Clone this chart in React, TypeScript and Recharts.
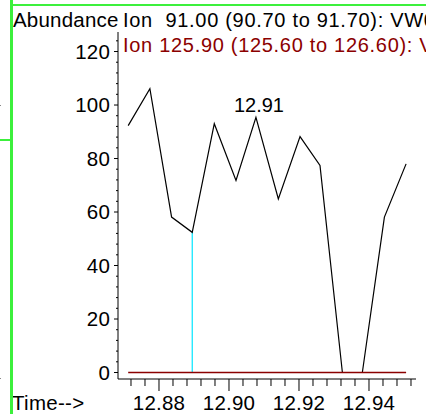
import React from "react";
import { LineChart, Line, XAxis, YAxis, ReferenceLine, LabelList } from "recharts";

// retention times (min)
const times = [12.8712, 12.8774, 12.8836, 12.8895, 12.8958, 12.902, 12.9077, 12.9141, 12.9203, 12.926, 12.9324, 12.9381, 12.9444, 12.9506];
// Ion 91.00 abundance
const ion91 = [92.3, 106.1, 58.1, 52.4, 93.0, 71.8, 95.4, 64.9, 88.2, 77.4, 0, 0, 58.1, 78.0];
// Ion 125.90 abundance
const ion126 = [0, 0, 0, 0, 0, 0, 0, 0, 0, 0, 0, 0, 0, 0];
// peak labels
const peakLabels = ["", "", "", "", "", "", "12.91", "", "", "", "", "", "", ""];
const markerIndex = 3;

const xMajorTicks = [12.88, 12.9, 12.92, 12.94];
const xTicks = [12.872, 12.876, 12.88, 12.884, 12.888, 12.892, 12.896, 12.9, 12.904, 12.908, 12.912, 12.916, 12.92, 12.924, 12.928, 12.932, 12.936, 12.94, 12.944, 12.948, 12.952];
const yMajorTicks = [0, 20, 40, 60, 80, 100, 120];
const yTicks = [0, 4, 8, 12, 16, 20, 24, 28, 32, 36, 40, 44, 48, 52, 56, 60, 64, 68, 72, 76, 80, 84, 88, 92, 96, 100, 104, 108, 112, 116, 120, 124];

const legend1 = "Ion  91.00 (90.70 to 91.70): VW01.D\\data.ms";
const legend2 = "Ion 125.90 (125.60 to 126.60): VW01.D\\data.ms";

const data = times.map((t, i) => ({ t, ion91: ion91[i], ion126: ion126[i], label: peakLabels[i] }));

const FONT = "Arial, 'Liberation Sans', sans-serif";
const RED = "#8B0000";
const GREEN = "#3CF03C";

const XTick = (props: any) => {
  const { x, y, payload } = props;
  const major = xMajorTicks.includes(payload.value);
  return (
    <g>
      <line x1={x} x2={x} y1={y} y2={y + (major ? 12 : 7)} stroke="#000" strokeWidth={1} />
      {major && (
        <text x={x} y={y + 31} textAnchor="middle" fontFamily={FONT} fontSize={20.5} letterSpacing={0.2} fill="#000">
          {payload.value.toFixed(2)}
        </text>
      )}
    </g>
  );
};

const YTick = (props: any) => {
  const { x, y, payload } = props;
  const major = yMajorTicks.includes(payload.value);
  return (
    <g>
      <line x1={x - (major ? 4 : 2)} x2={x} y1={y} y2={y} stroke="#000" strokeWidth={1} />
      {major && (
        <text x={x - 8} y={y + 7} textAnchor="end" fontFamily={FONT} fontSize={20.5} letterSpacing={0.2} fill="#000">
          {payload.value}
        </text>
      )}
    </g>
  );
};

const PeakLabel = (props: any) => {
  const { x, y, value } = props;
  if (!value) return null;
  return (
    <text x={x + 3} y={y - 5} textAnchor="middle" fontFamily={FONT} fontSize={20} fill="#000">
      {value}
    </text>
  );
};

export default function App() {
  return (
    <div style={{ position: "absolute", left: 0, top: 0, width: 426, height: 414, background: "#fff", overflow: "hidden" }}>
      <LineChart width={426} height={414} data={data} margin={{ top: 32, right: 10, bottom: 0, left: 0 }}>
        <XAxis
          dataKey="t"
          type="number"
          domain={[12.86829, 12.95343]}
          allowDataOverflow
          ticks={xTicks}
          interval={0}
          tickSize={0}
          tickMargin={0}
          tickLine={false}
          tick={<XTick />}
          height={35}
          axisLine={{ stroke: "#000" }}
        />
        <YAxis
          type="number"
          domain={[-2.43, 127.3]}
          allowDataOverflow
          ticks={yTicks}
          interval={0}
          tickSize={0}
          tickMargin={0}
          tickLine={false}
          tick={<YTick />}
          width={118}
          axisLine={{ stroke: "#000" }}
        />
        <ReferenceLine
          segment={[
            { x: times[markerIndex], y: 0 },
            { x: times[markerIndex], y: ion91[markerIndex] },
          ]}
          stroke="#00E5FF"
          strokeWidth={1.2}
        />
        <Line dataKey="ion91" stroke="#000" strokeWidth={1.2} dot={false} isAnimationActive={false}>
          <LabelList dataKey="label" content={<PeakLabel />} />
        </Line>
        <Line dataKey="ion126" stroke={RED} strokeWidth={1.5} dot={false} isAnimationActive={false} />
      </LineChart>
      <svg width={426} height={414} style={{ position: "absolute", left: 0, top: 0, pointerEvents: "none" }}>
        <text x={13} y={27} fontFamily={FONT} fontSize={20.5} letterSpacing={0.2} fill="#000" style={{ whiteSpace: "pre" }}>Abundance</text>
        <text x={123} y={27} fontFamily={FONT} fontSize={20} letterSpacing={0.7} fill="#000" style={{ whiteSpace: "pre" }}>{legend1}</text>
        <text x={123} y={51.5} fontFamily={FONT} fontSize={20} letterSpacing={0.7} fill={RED} style={{ whiteSpace: "pre" }}>{legend2}</text>
        <text x={12} y={409.5} fontFamily={FONT} fontSize={20.5} letterSpacing={0.3} fill="#000" style={{ whiteSpace: "pre" }}>Time--&gt;</text>
      </svg>
      <div style={{ position: "absolute", left: 10, top: 0, width: 3, height: 414, background: GREEN }} />
      <div style={{ position: "absolute", left: 12, top: 4, width: 414, height: 2, background: GREEN }} />
      <div style={{ position: "absolute", left: 0, top: 139, width: 11, height: 2, background: GREEN }} />
      <div style={{ position: "absolute", left: 0, top: 105, width: 1, height: 1, background: "#888" }} />
      <div style={{ position: "absolute", left: 0, top: 378, width: 1, height: 1, background: "#888" }} />
    </div>
  );
}
